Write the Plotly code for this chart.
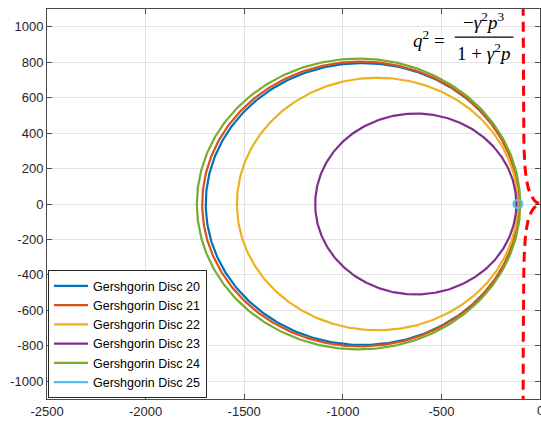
import numpy as np
import plotly.graph_objects as go

disc_names = ["Gershgorin Disc 20", "Gershgorin Disc 21", "Gershgorin Disc 22",
              "Gershgorin Disc 23", "Gershgorin Disc 24", "Gershgorin Disc 25"]
disc_centers = [-900, -910, -825, -630, -920, -112]
disc_radii = [795, 803, 712, 510, 820, 23]
disc_colors = ["#0072BD", "#D95319", "#EDB120", "#7E2F8E", "#77AC30", "#4DBEEE"]

# Red dashed boundary curve (p, q) points (upper branch)
curve_p = [0, -10, -20, -30, -40, -50, -60, -65, -70, -75, -78, -80, -82, -83, -84, -85, -85.5]
curve_q = [0, 3.6, 11.0, 22.0, 37.3, 58.9, 91.1, 114.4, 146.4, 195.8, 243.6, 292.1, 371.3, 436.6, 544.4, 783.7, 1118]

x_ticks = [-2500, -2000, -1500, -1000, -500, 0]
y_ticks = [-1000, -800, -600, -400, -200, 0, 200, 400, 600, 800, 1000]

fig = go.Figure()
theta = np.linspace(0, 2 * np.pi, 361)
for name, c, r, col in zip(disc_names, disc_centers, disc_radii, disc_colors):
    fig.add_trace(go.Scatter(
        x=c + r * np.cos(theta), y=r * np.sin(theta), mode="lines", name=name,
        line=dict(color=col, width=2.2), hoverinfo="skip"))

cp = np.array(curve_p)
cq = np.array(curve_q)
fig.add_trace(go.Scatter(
    x=np.concatenate([cp[::-1], cp]), y=np.concatenate([cq[::-1], -cq]),
    mode="lines", showlegend=False,
    line=dict(color="#FF0000", width=3, dash="10px,6px"), hoverinfo="skip"))

tick_font = dict(family="Liberation Sans, Arial", size=13, color="#262626")
axis_common = dict(showgrid=True, gridcolor="#e3e3e3", gridwidth=1,
                   showline=True, linecolor="#4a4a4a", linewidth=1,
                   mirror="ticks", ticks="inside", ticklen=5, tickcolor="#4a4a4a",
                   zeroline=False, tickfont=tick_font)

fig.update_xaxes(range=[-2500, 0], tickvals=x_ticks, ticktext=[str(v) for v in x_ticks], **axis_common)
fig.update_yaxes(range=[-1100, 1100], tickvals=y_ticks, ticktext=[str(v) for v in y_ticks], **axis_common)

# the last x tick label sits on the figure edge (half cut off, as in the reference)
fig.add_annotation(text=str(x_ticks[-1]), xref="x", x=x_ticks[-1], yref="paper", y=0,
                   yanchor="top", yshift=-2, showarrow=False, font=tick_font)

serif = dict(family="Liberation Serif, DejaVu Serif, serif", size=19, color="#000000")
bar_y = 0.928
fig.add_annotation(text="<i>q</i><sup>2</sup> =", xref="paper", yref="paper", x=0.811, y=bar_y - 0.005,
                   xanchor="right", yanchor="middle", showarrow=False, font=serif)
fig.add_annotation(text="−<i>γ</i><sup>2</sup><i>p</i><sup>3</sup>", xref="paper", yref="paper",
                   x=0.886, y=bar_y + 0.008, xanchor="center", yanchor="bottom", showarrow=False,
                   font=serif, borderpad=0)
fig.add_annotation(text="1 + <i>γ</i><sup>2</sup><i>p</i>", xref="paper", yref="paper",
                   x=0.886, y=bar_y - 0.004, xanchor="center", yanchor="top", showarrow=False,
                   font=serif, borderpad=0)
fig.add_shape(type="line", xref="paper", yref="paper", x0=0.827, x1=0.946, y0=bar_y, y1=bar_y,
              line=dict(color="#000000", width=1.2))

fig.update_layout(
    width=541, height=429,
    margin=dict(l=47, r=1, t=9, b=30),
    plot_bgcolor="#ffffff", paper_bgcolor="#ffffff",
    showlegend=True,
    legend=dict(x=0.002, y=0.002, xanchor="left", yanchor="bottom",
                bgcolor="#ffffff", bordercolor="#262626", borderwidth=1,
                font=dict(family="Liberation Sans, Arial", size=12.5, color="#000000"),
                tracegroupgap=0, itemwidth=34),
)

fig.write_html("out.html")
